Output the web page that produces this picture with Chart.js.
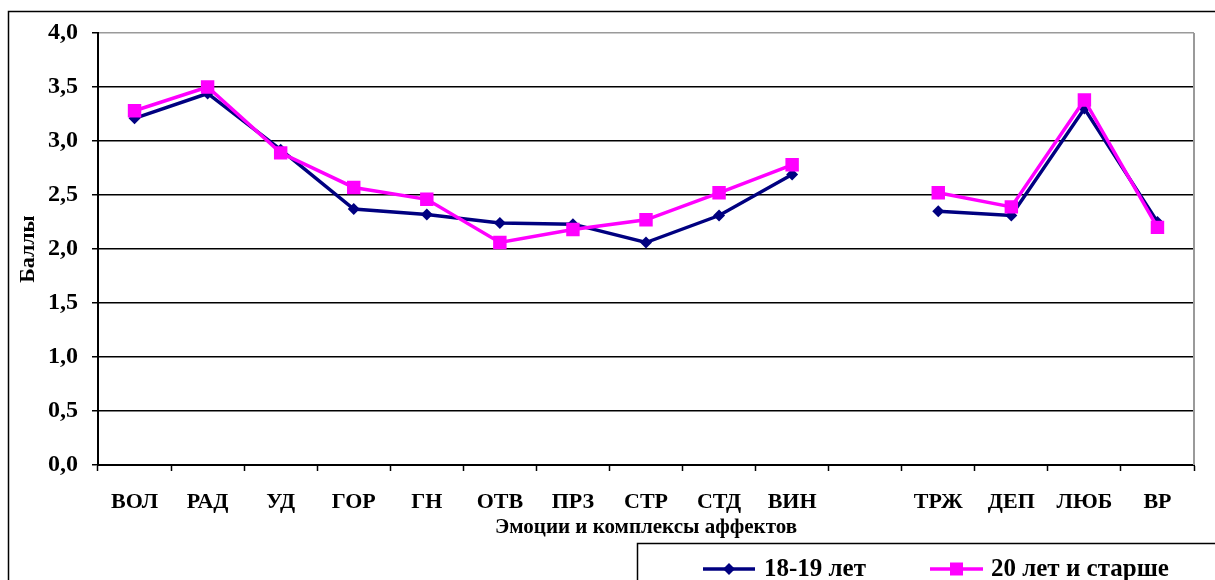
<!DOCTYPE html>
<html>
<head>
<meta charset="utf-8">
<script src="https://cdn.jsdelivr.net/npm/chart.js@4/dist/chart.umd.min.js"></script>
<style>
  html, body { margin: 0; padding: 0; background: #fff; }
  #wrap { position: relative; width: 1215px; height: 580px; }
</style>
</head>
<body>
<div id="wrap"><canvas id="c" width="1215" height="580"></canvas></div>
<script>
// Emotion / affect categories (blank slot separates the two groups)
const categories = ['ВОЛ', 'РАД', 'УД', 'ГОР', 'ГН', 'ОТВ', 'ПРЗ', 'СТР', 'СТД', 'ВИН', '', 'ТРЖ', 'ДЕП', 'ЛЮБ', 'ВР'];

// Mean scores per age group
const age18to19 = [3.21, 3.44, 2.92, 2.37, 2.32, 2.24, 2.23, 2.06, 2.31, 2.69, null, 2.35, 2.31, 3.30, 2.25];
const age20plus = [3.28, 3.50, 2.89, 2.57, 2.46, 2.06, 2.18, 2.27, 2.52, 2.78, null, 2.52, 2.39, 3.38, 2.20];

const seriesNames = ['18-19 лет', '20 лет и старше'];
const yTicks = [0, 0.5, 1, 1.5, 2, 2.5, 3, 3.5, 4];

const xTitle = 'Эмоции и комплексы аффектов';
const yTitle = 'Баллы';

const SERIF = '"Liberation Serif", "Times New Roman", serif';
const NAVY = '#000080';
const PINK = '#ff00ff';

// Frame around the whole figure, plot border and a boxed legend
const decorations = {
  id: 'decorations',
  afterDraw(chart) {
    const ctx = chart.ctx;
    const area = chart.chartArea;
    ctx.save();
    // outer frame
    ctx.strokeStyle = '#000';
    ctx.lineWidth = 1.5;
    ctx.beginPath();
    ctx.moveTo(8.5, 580);
    ctx.lineTo(8.5, 11.5);
    ctx.lineTo(1215, 11.5);
    ctx.stroke();

    // right edge of the plot area
    ctx.strokeStyle = '#9a9a9a';
    ctx.lineWidth = 2;
    ctx.beginPath();
    ctx.moveTo(area.right, area.top);
    ctx.lineTo(area.right, area.bottom);
    ctx.stroke();

    // legend box
    ctx.strokeStyle = '#000';
    ctx.lineWidth = 1.5;
    ctx.beginPath();
    ctx.moveTo(637.5, 580);
    ctx.lineTo(637.5, 543.5);
    ctx.lineTo(1215, 543.5);
    ctx.stroke();

    const items = [
      { x0: 703, x1: 755, tx: 764 },
      { x0: 930, x1: 983, tx: 991 }
    ];
    const ly = 569;
    chart.data.datasets.forEach((ds, i) => {
      const it = items[i];
      ctx.strokeStyle = ds.borderColor;
      ctx.lineWidth = 3.5;
      ctx.beginPath();
      ctx.moveTo(it.x0, ly);
      ctx.lineTo(it.x1, ly);
      ctx.stroke();
      const cx = (it.x0 + it.x1) / 2;
      ctx.fillStyle = ds.backgroundColor;
      ctx.beginPath();
      if (ds.pointStyle === 'rectRot') {
        const r = 6;
        ctx.moveTo(cx, ly - r);
        ctx.lineTo(cx + r, ly);
        ctx.lineTo(cx, ly + r);
        ctx.lineTo(cx - r, ly);
        ctx.closePath();
      } else {
        ctx.rect(cx - 6.5, ly - 6.5, 13, 13);
      }
      ctx.fill();
      ctx.fillStyle = '#000';
      ctx.font = 'bold 25px ' + SERIF;
      ctx.textBaseline = 'middle';
      ctx.textAlign = 'left';
      ctx.fillText(ds.label, it.tx, ly + 1);
    });
    ctx.restore();
  }
};

new Chart(document.getElementById('c'), {
  type: 'line',
  data: {
    labels: categories,
    datasets: [
      {
        label: seriesNames[0],
        data: age18to19,
        borderColor: NAVY,
        backgroundColor: NAVY,
        borderWidth: 3.5,
        pointStyle: 'rectRot',
        pointRadius: 6,
        pointBorderWidth: 0,
        pointBackgroundColor: NAVY,
        tension: 0,
        spanGaps: false,
        order: 1
      },
      {
        label: seriesNames[1],
        data: age20plus,
        borderColor: PINK,
        backgroundColor: PINK,
        borderWidth: 3.5,
        pointStyle: 'rect',
        pointRadius: 9.5,
        pointBorderWidth: 0,
        pointBackgroundColor: PINK,
        tension: 0,
        spanGaps: false,
        order: 0
      }
    ]
  },
  options: {
    responsive: false,
    animation: false,
    layout: { padding: { left: 0, top: 33, right: 21, bottom: 40 } },
    plugins: {
      legend: { display: false },
      tooltip: { enabled: false },
      title: { display: false }
    },
    scales: {
      x: {
        offset: true,
        afterFit(scale) { scale.height = 75; },
        grid: {
          offset: true,
          drawOnChartArea: false,
          drawTicks: true,
          tickLength: 6,
          tickColor: '#000',
          tickWidth: 1.5
        },
        border: { display: true, color: '#000', width: 2 },
        ticks: {
          autoSkip: false,
          maxRotation: 0,
          minRotation: 0,
          padding: 18,
          color: '#000',
          font: { family: SERIF, size: 22, weight: 'bold' }
        },
        title: {
          display: true,
          text: xTitle,
          color: '#000',
          padding: { top: 0, bottom: 0 },
          font: { family: SERIF, size: 21, weight: 'bold' }
        }
      },
      y: {
        min: 0,
        max: 4,
        afterFit(scale) { scale.width = 98; },
        afterBuildTicks(scale) { scale.ticks = yTicks.map(v => ({ value: v })); },
        grid: {
          color: ctx => (ctx.tick && ctx.tick.value === 4 ? '#9a9a9a' : '#000'),
          lineWidth: 1.5,
          drawTicks: true,
          tickLength: 6,
          tickColor: '#000',
          tickWidth: 1.5
        },
        border: { display: true, color: '#000', width: 2 },
        ticks: {
          padding: 14,
          color: '#000',
          font: { family: SERIF, size: 24, weight: 'bold' },
          callback: v => v.toFixed(1).replace('.', ',')
        },
        title: {
          display: true,
          text: yTitle,
          color: '#000',
          padding: { top: 15, bottom: 0 },
          font: { family: SERIF, size: 22, weight: 'bold' }
        }
      }
    }
  },
  plugins: [decorations]
});
</script>
</body>
</html>
